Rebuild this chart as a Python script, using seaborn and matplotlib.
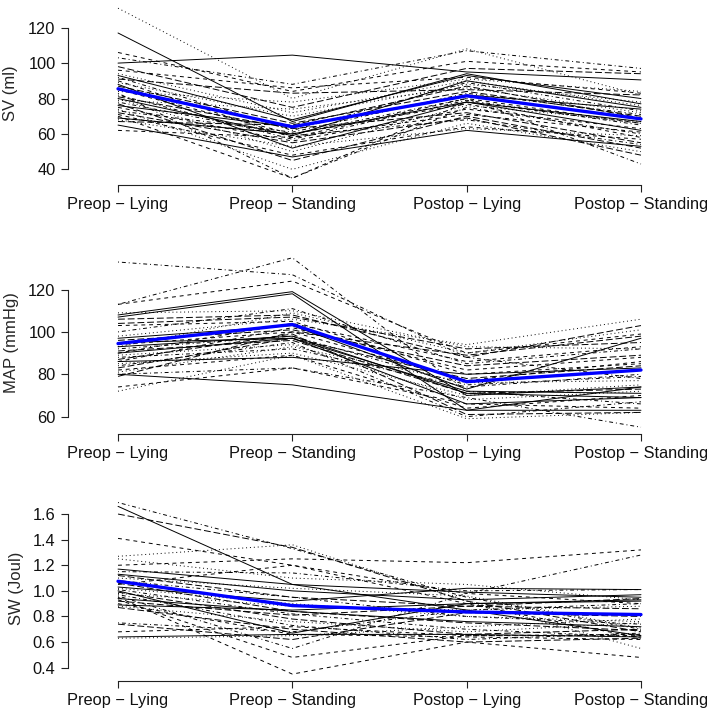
import pandas as pd
import matplotlib
matplotlib.use("Agg")
import matplotlib.pyplot as plt
import seaborn as sns

conditions = ["Preop \u2212 Lying", "Preop \u2212 Standing", "Postop \u2212 Lying", "Postop \u2212 Standing"]
positions = [1, 2, 3, 4]

# stroke volume, one row per patient
sv = [
    [117, 67, 94, 77], [106, 84, 101, 95], [131, 80, 108, 82], [103, 88, 107, 97],
    [98, 75, 97, 94], [100, 104.5, 95, 90.5], [96, 86, 92, 83], [94, 72, 90, 76],
    [92, 62, 89, 73], [91, 83, 85, 82], [93, 68, 93, 80], [90, 58, 80, 66],
    [89, 70, 88, 78], [83, 35, 75, 60], [87, 66, 84, 70], [88, 52, 78, 62],
    [85, 60, 77, 58], [84, 78, 91, 84], [82, 57, 79, 65], [81, 63, 72, 55],
    [80, 59, 90, 75], [70, 35, 78, 66], [79, 74, 86, 72], [78, 59, 68, 54],
    [77, 45, 70, 52], [76, 64, 82, 74], [75, 56, 74, 63], [74, 40, 66, 50],
    [73, 61, 83, 71], [72, 55, 69, 48], [69, 60, 78, 67], [71, 48, 64, 57],
    [68, 53, 63, 59], [69, 60, 80, 43], [67, 65, 87, 69], [65, 47, 62, 53],
    [62, 58, 71, 61], [80, 50, 76, 67],
]
sv_mean = [85.5, 64, 81.5, 68.5]

# mean arterial pressure
mapp = [
    [108, 119, 70, 74], [113, 124, 90, 99], [109, 110, 93, 92], [133, 127, 88, 78],
    [106, 108, 88, 103], [107, 118, 63, 63], [103, 105, 80, 85], [98, 106, 94, 106],
    [113, 135, 72, 66], [96, 101, 84, 89], [97, 103, 73, 97], [94, 100, 77, 86],
    [93, 109, 90, 101], [92, 98, 75, 79], [91, 96, 71, 73], [95, 97, 66, 69],
    [90, 104, 86, 93], [89, 94, 68, 72], [88, 92, 74, 80], [87, 99, 61, 62],
    [80, 75, 63, 74], [86, 102, 82, 88], [85, 90, 70, 75], [84, 95, 60, 67],
    [83, 97, 78, 84], [93, 98, 71, 69], [82, 89, 64, 70], [81, 93, 76, 77],
    [80, 83, 69, 55], [79, 100, 89, 98], [86, 88, 80, 83], [74, 83, 66, 64],
    [72, 89, 59, 62], [100, 111, 85, 92], [104, 107, 92, 95], [90, 97, 72, 71],
]
map_mean = [94.5, 103.5, 76.5, 82]

# stroke work
sw = [
    [1.66, 1.05, 0.85, 0.65], [1.20, 1.25, 1.22, 1.32], [1.27, 1.36, 0.92, 0.55], [1.69, 1.33, 0.95, 0.70],
    [1.60, 1.34, 0.92, 0.68], [1.17, 1.05, 0.99, 0.95], [1.41, 1.20, 0.98, 0.90], [1.25, 1.10, 1.05, 0.93],
    [1.15, 1.14, 1.00, 1.01], [1.12, 0.95, 0.88, 0.86], [1.00, 0.67, 0.90, 0.93], [0.95, 0.35, 0.60, 0.48],
    [1.10, 1.02, 0.96, 0.71], [0.96, 0.55, 0.98, 1.28], [1.06, 0.84, 0.75, 0.69], [0.94, 0.84, 0.76, 0.72],
    [1.05, 1.20, 0.90, 0.63], [1.02, 0.90, 0.80, 0.76], [1.01, 0.82, 0.70, 0.64], [0.99, 0.78, 0.66, 0.70],
    [0.89, 0.85, 0.90, 0.92], [0.93, 0.48, 0.65, 0.66], [0.98, 0.88, 0.85, 0.88], [0.97, 0.73, 0.62, 0.67],
    [0.92, 0.81, 0.88, 0.94], [1.13, 1.00, 0.93, 0.97], [0.90, 0.66, 0.64, 0.62], [0.88, 0.76, 0.68, 0.75],
    [0.75, 0.68, 0.85, 0.90], [0.74, 0.62, 0.83, 0.80], [0.64, 0.66, 0.66, 0.64], [0.68, 0.72, 0.65, 0.65],
    [0.63, 0.65, 0.72, 0.78], [1.08, 0.95, 0.80, 0.74], [0.87, 0.70, 0.60, 0.63], [1.03, 0.92, 1.02, 1.01],
]
sw_mean = [1.075, 0.885, 0.835, 0.815]

# R style line types, cycled over patients like matplot
line_types = ["solid", "dashed", "dotted", "dotdash", "longdash"]
dash_map = {"solid": "", "dashed": (4, 4), "dotted": (1, 3), "dotdash": (1, 3, 4, 3), "longdash": (7, 3)}


def to_long(rows):
    recs = []
    for i, row in enumerate(rows):
        for x, v in zip(positions, row):
            recs.append({"subject": i, "x": x, "value": v, "lty": line_types[i % 5]})
    return pd.DataFrame(recs)


sns.set_style("white")
plt.rcParams["font.family"] = ["Liberation Sans", "DejaVu Sans"]

W, H = 709, 714
fig = plt.figure(figsize=(W / 100, H / 100), dpi=100)

panels = [
    (sv, sv_mean, "SV (ml)", (31.16, 134.84), [40, 60, 80, 100, 120], None, 1.4, 185, -0.08),
    (mapp, map_mean, "MAP (mmHg)", (51.8, 138.2), [60, 80, 100, 120], None, 251, 434, -0.078),
    (sw, sw_mean, "SW (Joul)", (0.296, 1.744), [0.4, 0.6, 0.8, 1.0, 1.2, 1.4, 1.6], "{:.1f}", 495.6, 681, -0.07),
]

for rows, mean, ylab, ylim, yticks, fmt, top, bottom, labx in panels:
    ax = fig.add_axes([68 / W, 1 - bottom / H, 623 / W, (bottom - top) / H])
    df = to_long(rows)
    sns.lineplot(data=df, x="x", y="value", units="subject", estimator=None,
                 style="lty", dashes=dash_map, color="black", linewidth=0.7,
                 legend=False, ax=ax)
    sns.lineplot(x=positions, y=mean, color="#0000FF", linewidth=2.4, ax=ax)
    ax.set_xlim(0.713, 4.287)
    ax.set_ylim(*ylim)
    ax.set_xticks(positions)
    ax.set_xticklabels(conditions)
    ax.set_yticks(yticks)
    if fmt:
        ax.set_yticklabels([fmt.format(t) for t in yticks])
    ax.set_xlabel("")
    ax.set_ylabel(ylab, fontsize=12)
    ax.yaxis.set_label_coords(labx, 0.5)
    sns.despine(ax=ax)
    ax.spines["left"].set_bounds(yticks[0], yticks[-1])
    ax.spines["bottom"].set_bounds(1, 4)
    for s in ["left", "bottom"]:
        ax.spines[s].set_linewidth(0.8)
        ax.spines[s].set_color("#222222")
    ax.tick_params(axis="both", direction="out", length=5, width=0.8, color="#222222",
                   labelsize=11.8, labelcolor="#111111", pad=4, left=True, bottom=True)
    ax.grid(False)

fig.savefig("out.png", dpi=100)
